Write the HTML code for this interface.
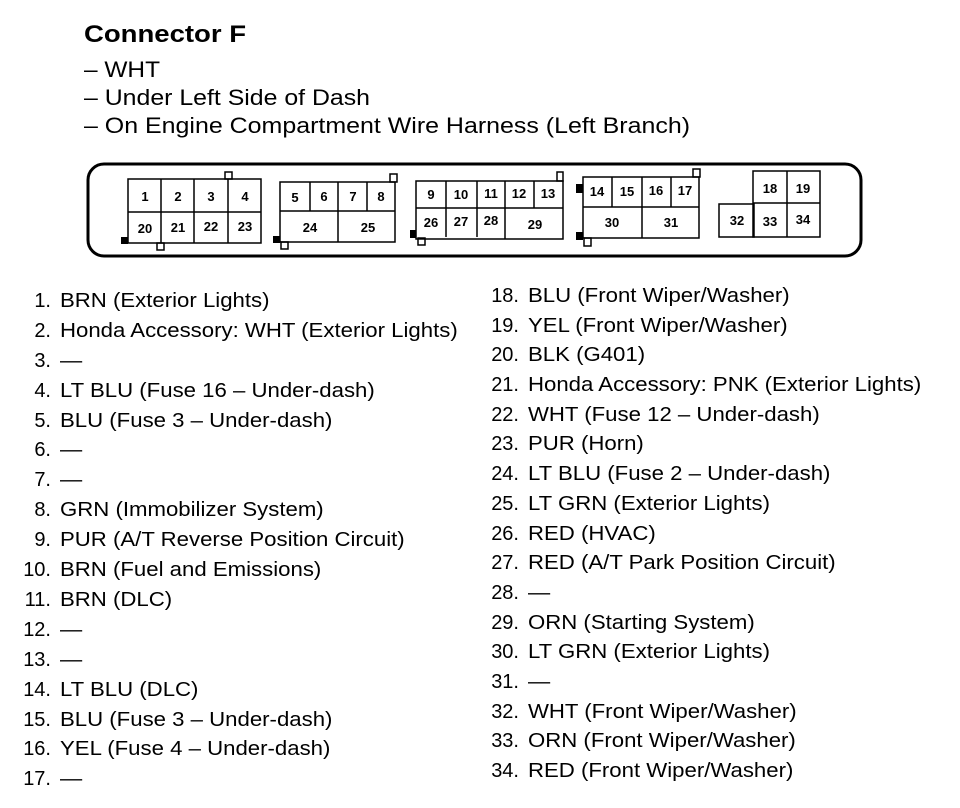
<!DOCTYPE html>
<html><head><meta charset="utf-8"><style>
html,body{margin:0;padding:0;background:#fff;}
svg{display:block;}
text{font-family:"Liberation Sans",Arial,sans-serif;fill:#000;}
.c{font-size:13px;font-weight:bold;text-anchor:middle;}
.l{font-size:20px;}
.n{font-size:20px;text-anchor:end;}
</style></head><body>
<svg width="960" height="808" viewBox="0 0 960 808" xmlns="http://www.w3.org/2000/svg">
<text x="84" y="42" style="font-size:24px;font-weight:bold" textLength="162" lengthAdjust="spacingAndGlyphs">Connector F</text>
<text x="84" y="77" style="font-size:22px" textLength="76" lengthAdjust="spacingAndGlyphs">– WHT</text>
<text x="84" y="105" style="font-size:22px" textLength="286" lengthAdjust="spacingAndGlyphs">– Under Left Side of Dash</text>
<text x="84" y="133" style="font-size:22px" textLength="606" lengthAdjust="spacingAndGlyphs">– On Engine Compartment Wire Harness (Left Branch)</text>

<rect x="88" y="164" width="773" height="92" rx="16" fill="none" stroke="#000" stroke-width="3"/>

<g fill="none" stroke="#000" stroke-width="1.5">
<rect x="128" y="179" width="133" height="64"/>
<line x1="128" y1="212" x2="261" y2="212"/>
<line x1="161" y1="179" x2="161" y2="243"/><line x1="194" y1="179" x2="194" y2="243"/><line x1="228" y1="179" x2="228" y2="243"/>
<rect x="225" y="172" width="7" height="7"/><rect x="157" y="243" width="7" height="7"/>
<rect x="280" y="182" width="115" height="60"/>
<line x1="280" y1="211" x2="395" y2="211"/>
<line x1="310" y1="182" x2="310" y2="211"/><line x1="338" y1="182" x2="338" y2="242"/><line x1="367" y1="182" x2="367" y2="211"/>
<rect x="390" y="174" width="7" height="8"/><rect x="281" y="242" width="7" height="7"/>
<rect x="416" y="181" width="147" height="58"/>
<line x1="416" y1="208" x2="563" y2="208"/>
<line x1="446" y1="181" x2="446" y2="237"/><line x1="477" y1="181" x2="477" y2="237"/><line x1="505" y1="181" x2="505" y2="239"/><line x1="534" y1="181" x2="534" y2="208"/>
<rect x="557" y="172" width="6" height="9"/><rect x="418" y="238" width="7" height="7"/>
<rect x="583" y="177" width="116" height="61"/>
<line x1="583" y1="207" x2="699" y2="207"/>
<line x1="612" y1="177" x2="612" y2="207"/><line x1="642" y1="177" x2="642" y2="238"/><line x1="671" y1="177" x2="671" y2="207"/>
<rect x="693" y="169" width="7" height="8"/><rect x="584" y="238" width="7" height="8"/>
<rect x="753" y="171" width="67" height="66"/>
<line x1="753" y1="203" x2="820" y2="203"/><line x1="787" y1="171" x2="787" y2="237"/>
<rect x="719" y="204" width="35" height="33"/>
</g>
<g fill="#000">
<rect x="121" y="237" width="7" height="7"/><rect x="273" y="236" width="7" height="7"/>
<rect x="410" y="230" width="6" height="8"/><rect x="576" y="184" width="7" height="9"/><rect x="576" y="232" width="7" height="8"/>
</g>
<g class="c">
<text x="145" y="201">1</text><text x="178" y="201">2</text><text x="211" y="201">3</text><text x="245" y="201">4</text>
<text x="145" y="233">20</text><text x="178" y="232">21</text><text x="211" y="231">22</text><text x="245" y="231">23</text>
<text x="295" y="202">5</text><text x="324" y="201">6</text><text x="353" y="201">7</text><text x="381" y="201">8</text>
<text x="310" y="232">24</text><text x="368" y="232">25</text>
<text x="431" y="199">9</text><text x="461" y="199">10</text><text x="491" y="198">11</text><text x="519" y="198">12</text><text x="548" y="198">13</text>
<text x="431" y="227">26</text><text x="461" y="226">27</text><text x="491" y="225">28</text><text x="535" y="229">29</text>
<text x="597" y="196">14</text><text x="627" y="196">15</text><text x="656" y="195">16</text><text x="685" y="195">17</text>
<text x="612" y="227">30</text><text x="671" y="227">31</text>
<text x="770" y="193">18</text><text x="803" y="193">19</text>
<text x="737" y="225">32</text><text x="770" y="226">33</text><text x="803" y="224">34</text>
</g>

<g class="n">
<text x="51" y="307">1.</text><text x="51" y="337">2.</text><text x="51" y="367">3.</text><text x="51" y="397">4.</text><text x="51" y="427">5.</text><text x="51" y="456">6.</text><text x="51" y="486">7.</text><text x="51" y="516">8.</text><text x="51" y="546">9.</text><text x="51" y="576">10.</text><text x="51" y="606">11.</text><text x="51" y="636">12.</text><text x="51" y="666">13.</text><text x="51" y="696">14.</text><text x="51" y="726">15.</text><text x="51" y="755">16.</text><text x="51" y="785">17.</text>
<text x="519" y="302">18.</text><text x="519" y="332">19.</text><text x="519" y="361">20.</text><text x="519" y="391">21.</text><text x="519" y="421">22.</text><text x="519" y="450">23.</text><text x="519" y="480">24.</text><text x="519" y="510">25.</text><text x="519" y="540">26.</text><text x="519" y="569">27.</text><text x="519" y="599">28.</text><text x="519" y="629">29.</text><text x="519" y="658">30.</text><text x="519" y="688">31.</text><text x="519" y="718">32.</text><text x="519" y="747">33.</text><text x="519" y="777">34.</text>
</g>
<g class="l" transform="translate(60,0) scale(1.11,1) translate(-60,0)">
<text x="60" y="307">BRN (Exterior Lights)</text>
<text x="60" y="337">Honda Accessory: WHT (Exterior Lights)</text>
<text x="60" y="367">—</text>
<text x="60" y="397">LT BLU (Fuse 16 – Under-dash)</text>
<text x="60" y="427">BLU (Fuse 3 – Under-dash)</text>
<text x="60" y="456">—</text>
<text x="60" y="486">—</text>
<text x="60" y="516">GRN (Immobilizer System)</text>
<text x="60" y="546">PUR (A/T Reverse Position Circuit)</text>
<text x="60" y="576">BRN (Fuel and Emissions)</text>
<text x="60" y="606">BRN (DLC)</text>
<text x="60" y="636">—</text>
<text x="60" y="666">—</text>
<text x="60" y="696">LT BLU (DLC)</text>
<text x="60" y="726">BLU (Fuse 3 – Under-dash)</text>
<text x="60" y="755">YEL (Fuse 4 – Under-dash)</text>
<text x="60" y="785">—</text>
</g>
<g class="l" transform="translate(528,0) scale(1.11,1) translate(-528,0)">
<text x="528" y="302">BLU (Front Wiper/Washer)</text>
<text x="528" y="332">YEL (Front Wiper/Washer)</text>
<text x="528" y="361">BLK (G401)</text>
<text x="528" y="391">Honda Accessory: PNK (Exterior Lights)</text>
<text x="528" y="421">WHT (Fuse 12 – Under-dash)</text>
<text x="528" y="450">PUR (Horn)</text>
<text x="528" y="480">LT BLU (Fuse 2 – Under-dash)</text>
<text x="528" y="510">LT GRN (Exterior Lights)</text>
<text x="528" y="540">RED (HVAC)</text>
<text x="528" y="569">RED (A/T Park Position Circuit)</text>
<text x="528" y="599">—</text>
<text x="528" y="629">ORN (Starting System)</text>
<text x="528" y="658">LT GRN (Exterior Lights)</text>
<text x="528" y="688">—</text>
<text x="528" y="718">WHT (Front Wiper/Washer)</text>
<text x="528" y="747">ORN (Front Wiper/Washer)</text>
<text x="528" y="777">RED (Front Wiper/Washer)</text>
</g>
</svg>
</body></html>
